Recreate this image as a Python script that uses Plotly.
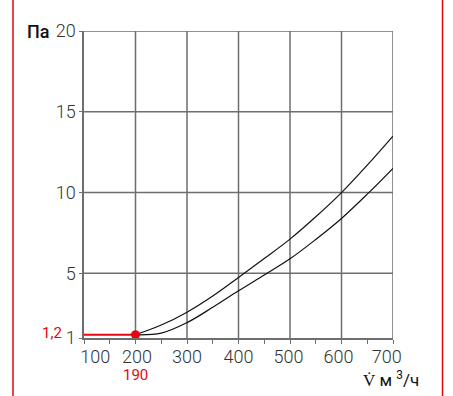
import plotly.graph_objects as go

# Data
flow = [200, 250, 300, 350, 400, 450, 500, 550, 600, 650, 700]
upper = [1.2, 1.8, 2.6, 3.6, 4.75, 5.92, 7.12, 8.5, 10.0, 11.7, 13.5]
lower = [1.2, 1.3, 1.95, 2.9, 3.92, 4.9, 5.9, 7.1, 8.4, 9.9, 11.5]
op_x = [100, 200]
op_y = [1.2, 1.2]
op_point_x = [200]
op_point_y = [1.2]
op_flow_label = "190"
op_pressure_label = "1,2"

x_tickvals = [100, 200, 300, 400, 500, 600, 700]
x_ticktext = ["100", "200", "300", "400", "500", "600", "700"]
x_labelpos = [122, 203, 300, 400, 497, 594, 688]
y_tickvals = [1, 5, 10, 15, 20]
y_ticktext = ["1", "5", "10", "15", "20"]

W, H = 453, 396
L, R, T, B = 84, 60, 31, 58
pw, ph = W - L - R, H - T - B

def px_x(p):
    return (p - L) / pw

def px_y(p):
    return (H - B - p) / ph

RED = "#e30613"
GRID = "#6e6e6e"
TXT = "#333333"
FONT = "Roboto"

fig = go.Figure()
fig.add_trace(go.Scatter(x=flow, y=upper, mode="lines", line=dict(color="#111111", width=1.2, shape="spline"), showlegend=False))
fig.add_trace(go.Scatter(x=flow, y=lower, mode="lines", line=dict(color="#111111", width=1.2, shape="spline"), showlegend=False))
fig.add_trace(go.Scatter(x=op_x, y=op_y, mode="lines", line=dict(color=RED, width=2), showlegend=False))
fig.add_trace(go.Scatter(x=op_point_x, y=op_point_y, mode="markers", marker=dict(color=RED, size=9), showlegend=False))
# invisible trace on overlay axis to carry tick labels
fig.add_trace(go.Scatter(x=[100, 700], y=[1, 1], xaxis="x2", mode="markers", marker=dict(opacity=0), showlegend=False, hoverinfo="skip"))

fig.update_layout(
    width=W, height=H,
    margin=dict(l=L, r=R, t=T, b=B, autoexpand=False),
    plot_bgcolor="white", paper_bgcolor="white",
    xaxis=dict(range=[100, 700], tickmode="linear", tick0=100, dtick=50,
               showticklabels=False, ticks="outside", ticklen=4, tickcolor=GRID, tickwidth=1,
               showgrid=False, showline=True, linecolor=GRID, linewidth=1.5, mirror=False,
               zeroline=False, fixedrange=True, automargin=False),
    xaxis2=dict(range=[100, 700], overlaying="x", anchor="y", side="bottom",
                tickvals=x_labelpos, ticktext=x_ticktext, ticks="outside", ticklen=2, tickcolor="rgba(0,0,0,0)",
                showgrid=False, showline=False, zeroline=False, automargin=False,
                tickfont=dict(family=FONT, size=18, color=TXT, weight=300)),
    yaxis=dict(range=[1, 20], tickvals=y_tickvals, ticktext=y_ticktext,
               ticks="outside", ticklen=3, tickcolor=GRID, automargin=False,
               showgrid=False, showline=True, linecolor=GRID, linewidth=1.5,
               zeroline=False, tickfont=dict(family=FONT, size=18, color=TXT, weight=300)),
)

shapes = []
for xv in x_tickvals[1:]:
    shapes.append(dict(type="line", xref="x", yref="paper", x0=xv, x1=xv, y0=0, y1=1,
                       line=dict(color=GRID if xv != 300 else "#222222", width=1.5 if xv != 300 else 1), layer="below"))
for yv in y_tickvals[1:]:
    shapes.append(dict(type="line", xref="paper", yref="y", x0=0, x1=1, y0=yv, y1=yv,
                       line=dict(color=GRID, width=1.5), layer="below"))
# red frame lines left and right
shapes.append(dict(type="line", xref="paper", yref="paper", x0=px_x(13), x1=px_x(13), y0=px_y(0), y1=px_y(H),
                   line=dict(color=RED, width=1.5)))
shapes.append(dict(type="line", xref="paper", yref="paper", x0=px_x(442.5), x1=px_x(442.5), y0=px_y(0), y1=px_y(H),
                   line=dict(color=RED, width=1.5)))
fig.update_layout(shapes=shapes)

fig.add_annotation(x=px_x(51), y=px_y(31), xref="paper", yref="paper", text="Па", showarrow=False,
                   xanchor="right", yanchor="middle", font=dict(family=FONT, size=18, color="#111111", weight=500))
fig.add_annotation(x=px_x(64), y=px_y(333), xref="paper", yref="paper", text=op_pressure_label, showarrow=False,
                   xanchor="right", yanchor="middle", font=dict(family=FONT, size=15, color=RED))
fig.add_annotation(x=op_point_x[0], y=px_y(375), xref="x", yref="paper", text=op_flow_label, showarrow=False,
                   xanchor="center", yanchor="middle", font=dict(family=FONT, size=15, color=RED))
fig.add_annotation(x=px_x(421), y=px_y(379), xref="paper", yref="paper", text="V̇ м <sup>3</sup>/ч", showarrow=False,
                   xanchor="right", yanchor="middle", font=dict(family=FONT, size=17, color="#111111"))

fig.write_html("out.html", config={"displayModeBar": False},
               post_script="document.body.style.margin='0px';document.body.style.overflow='hidden';")
